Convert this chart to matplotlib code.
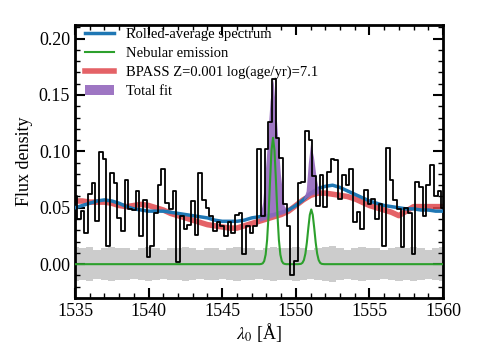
import numpy as np
import matplotlib
matplotlib.use("Agg")
import matplotlib.pyplot as plt
from matplotlib.ticker import MultipleLocator

plt.rcParams['font.family'] = ['Liberation Serif', 'DejaVu Serif']
plt.rcParams['mathtext.fontset'] = 'stix'

# observed spectrum, 0.25 A bins from 1535 to 1560
wave = np.arange(1535.0, 1560.01, 0.25)
flux = [0.060, 0.040, 0.047, 0.028, 0.062, 0.072, 0.038, 0.099, 0.093, 0.016,
        0.081, 0.072, 0.041, 0.029, 0.075, 0.049, 0.048, 0.065, 0.025, 0.057,
        0.006, 0.016, 0.045, 0.070, 0.084, 0.054, 0.049, 0.065, 0.0015, 0.043,
        0.031, 0.035, 0.056, 0.026, 0.081, 0.057,
        0.050, 0.043, 0.029, 0.037, 0.034, 0.025, 0.037, 0.028, 0.044, 0.045,
        0.009, 0.034, 0.028, 0.034, 0.102, 0.043, 0.102, 0.126, 0.164, 0.112,
        0.094, 0.053, 0.034, -0.010,
        0.003, 0.072, 0.073, 0.118, 0.110, 0.078, 0.052, 0.079, 0.051, 0.082,
        0.093, 0.092, 0.058, 0.079, 0.070, 0.084,
        0.037, 0.046, 0.031, 0.066, 0.053, 0.058, 0.040, 0.053, 0.016, 0.103,
        0.075, 0.057, 0.049, 0.015, 0.050, 0.045, 0.009, 0.073, 0.068, 0.043,
        0.070, 0.088, 0.060, 0.065, 0.050]

# 1-sigma error, 0.5 A grid
err_wave = np.arange(1535.0, 1560.01, 0.5)
err = [0.015, 0.014, 0.015, 0.013, 0.014, 0.015, 0.014, 0.014, 0.013, 0.014,
       0.015, 0.014, 0.013, 0.014, 0.014, 0.015, 0.014, 0.013, 0.014, 0.014,
       0.013, 0.014, 0.015, 0.014, 0.014, 0.013, 0.014, 0.015, 0.014, 0.014,
       0.015, 0.014, 0.013, 0.014, 0.015, 0.016, 0.014, 0.013, 0.014, 0.015,
       0.014, 0.014, 0.013, 0.014, 0.015, 0.014, 0.015, 0.014, 0.013, 0.014, 0.015]

# smooth curves, 0.5 A grid
smooth_wave = np.arange(1535.0, 1560.01, 0.5)
rolled = [0.050, 0.052, 0.054, 0.056, 0.057, 0.056, 0.054, 0.051, 0.049, 0.048,
          0.047, 0.047, 0.047, 0.046, 0.045, 0.044, 0.043, 0.042, 0.041, 0.039,
          0.038, 0.038, 0.038, 0.039, 0.041, 0.042, 0.043, 0.044, 0.046, 0.048,
          0.052, 0.057, 0.063, 0.067, 0.069, 0.070, 0.068, 0.065, 0.062, 0.059,
          0.056, 0.054, 0.052, 0.051, 0.050, 0.049, 0.049, 0.048, 0.048, 0.047, 0.047]
bpass = [0.056, 0.056, 0.055, 0.055, 0.055, 0.054, 0.052, 0.051, 0.052, 0.053,
         0.052, 0.050, 0.048, 0.045, 0.043, 0.041, 0.039, 0.037, 0.035, 0.034,
         0.033, 0.032, 0.032, 0.034, 0.036, 0.038, 0.040, 0.042, 0.044, 0.047,
         0.052, 0.057, 0.061, 0.063, 0.063, 0.062, 0.061, 0.060, 0.058, 0.055,
         0.052, 0.050, 0.048, 0.046, 0.043, 0.047, 0.051, 0.051, 0.051, 0.051, 0.051]

# nebular emission (C IV doublet)
neb_wave = [1535.0,
            1547.55, 1547.65, 1547.75, 1547.85, 1547.95, 1548.05, 1548.15, 1548.25, 1548.35,
            1548.45, 1548.55, 1548.65, 1548.75, 1548.85, 1548.95, 1549.05, 1549.15, 1549.25, 1549.35,
            1550.15, 1550.25, 1550.35, 1550.45, 1550.55, 1550.65, 1550.75, 1550.85, 1550.95,
            1551.05, 1551.15, 1551.25, 1551.35, 1551.45, 1551.55, 1551.65, 1551.75, 1551.85, 1551.95,
            1560.0]
neb = [0.0,
       0.0, 0.0002, 0.0007, 0.0027, 0.0085, 0.0215, 0.0442, 0.0741, 0.1010,
       0.112, 0.1010, 0.0741, 0.0442, 0.0215, 0.0085, 0.0027, 0.0007, 0.0002, 0.0,
       0.0, 0.0001, 0.0003, 0.0012, 0.0037, 0.0093, 0.0192, 0.0321, 0.0437,
       0.0485, 0.0437, 0.0321, 0.0192, 0.0093, 0.0037, 0.0012, 0.0003, 0.0001, 0.0,
       0.0]

# total fit band
fit_wave = [1547.5, 1547.75, 1548.0, 1548.25, 1548.45, 1548.7, 1548.95, 1549.2, 1549.45,
            1550.5, 1550.7, 1550.85, 1551.0, 1551.2, 1551.4, 1551.6]
fit_low = [0.038, 0.039, 0.040, 0.041, 0.042, 0.043, 0.044, 0.045, 0.047,
           0.057, 0.059, 0.060, 0.061, 0.062, 0.062, 0.063]
fit_high = [0.038, 0.055, 0.095, 0.145, 0.164, 0.125, 0.080, 0.052, 0.047,
            0.057, 0.065, 0.090, 0.107, 0.095, 0.075, 0.063]

fig = plt.figure(figsize=(4.79, 3.6), dpi=100)
ax = fig.add_axes([0.1566, 0.1722, 0.7683, 0.7583])

err = np.array(err)
ax.fill_between(err_wave, -err, err, step='mid', color='#cccccc', lw=0, zorder=1)
ax.plot(smooth_wave, bpass, color='#e0474c', lw=4, alpha=0.85, zorder=2,
        label='BPASS Z=0.001 log(age/yr)=7.1')
ax.plot(smooth_wave, rolled, color='#1f77b4', lw=2.5, zorder=3,
        label='Rolled-average spectrum')
ax.fill_between(fit_wave, fit_low, fit_high, color='#9467bd', alpha=0.9, lw=0,
                zorder=4, label='Total fit')
ax.plot(neb_wave, neb, color='#2ca02c', lw=1.5, zorder=5, label='Nebular emission')
ax.step(wave, flux, where='mid', color='k', lw=1.3, zorder=6)

ax.set_xlim(1535, 1560)
ax.set_ylim(-0.03, 0.212)
ax.xaxis.set_major_locator(MultipleLocator(5))
ax.xaxis.set_minor_locator(MultipleLocator(1))
ax.yaxis.set_major_locator(MultipleLocator(0.05))
ax.yaxis.set_minor_locator(MultipleLocator(0.01))
ax.tick_params(which='both', direction='in', top=True, right=True, labelsize=13)
ax.tick_params(which='major', length=7, width=1.5)
ax.tick_params(which='minor', length=3.5, width=1)
for s in ax.spines.values():
    s.set_linewidth(2)

ax.set_xlabel(r'$\lambda_0$ [Å]', fontsize=13, labelpad=1)
ax.set_ylabel('Flux density', fontsize=13, labelpad=4)

h, l = ax.get_legend_handles_labels()
order = [1, 3, 0, 2]
ax.legend([h[i] for i in order], [l[i] for i in order], loc='upper left',
          bbox_to_anchor=(0.028, 0.99), frameon=False, fontsize=10.5,
          handlelength=2.0, labelspacing=0.4, borderpad=0, borderaxespad=0)

fig.savefig('out.png', dpi=100)
